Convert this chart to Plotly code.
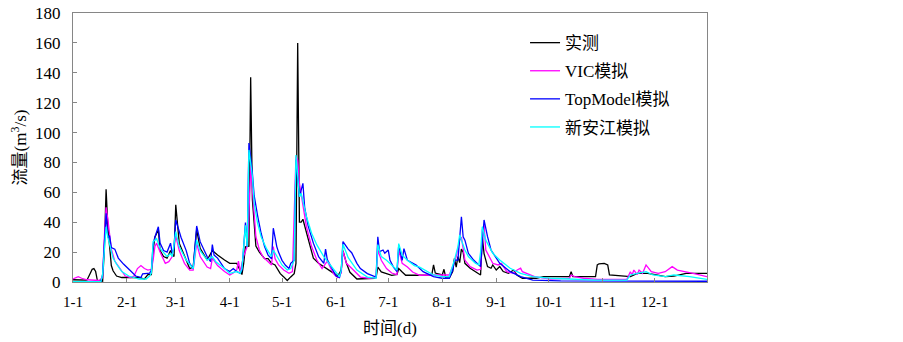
import plotly.graph_objects as go

# ---------------- data (day index 0..364, flow m3/s) ----------------
month_days = [0, 31, 59, 90, 120, 151, 181, 212, 243, 273, 304, 334]
month_labels = ["1-1", "2-1", "3-1", "4-1", "5-1", "6-1", "7-1", "8-1", "9-1", "10-1", "11-1", "12-1"]

series_names = ["实测", "VIC模拟", "TopModel模拟", "新安江模拟"]
series_colors = ["#000000", "#FF00FF", "#0000FF", "#00FFFF"]

obs_points = [(0,1.5),(5,1.5),(8,1.2),(10,6),(11,8.5),(12,9),(13,7),(14,1),(17,0.5),(18,22),(19,62),(20,37),(21,22),(22,11),(23,7.5),(25,4),(28,3),(34,3),(38,3),(41,2),(43,5),(45,5),(46,21),(47,30),(49,35),(50,21),(52,17),(54,16),(56,21),(58,17),(59,51.6),(61,26),(64,17),(67,9),(69,10),(71,35),(73,22.5),(77,14.7),(80,21),(83,18),(87,14.7),(90,12.5),(94,12.5),(96,7),(97,5),(98,12.5),(99,23.6),(101,24),(102,137),(103,55),(104,37),(105,24),(107,20),(110,15.6),(112,15.6),(114,12.5),(116,11.4),(119,5.6),(121,3.4),(123,1),(125,3.4),(127,5.6),(128,12.5),(129,160),(130,40),(131,40),(132,42),(134,33),(136,24),(138,16),(141,12.5),(144,10),(147,8),(150,5.6),(152,4),(154,8),(155,21),(157,12.5),(159,6.5),(161,4),(163,2),(173,2.5),(174,3),(175,10),(177,6.7),(180,5.6),(183,4.5),(186,5),(187,9),(189,6.7),(191,4.5),(200,4.5),(206,4.7),(207,11.4),(208,6),(212,4.7),(213,8.5),(214,3),(216,2.5),(218,7),(219,15.8),(220,10),(221,17),(222,13),(223,22),(224,20),(225,12.5),(228,9.2),(231,6.9),(234,4.7),(235,30),(236,19),(238,10.3),(240,9.2),(241,11.4),(243,8),(245,10.3),(247,7),(250,5.8),(253,8),(255,4.5),(258,2.5),(266,2.5),(270,3.6),(285,3.6),(286,6.9),(287,3.6),(300,3.6),(301,11.4),(302,12.2),(305,12.5),(307,11.4),(308,4.7),(320,3.6),(324,5.8),(330,5.8),(335,4.7),(340,3.6),(345,4),(352,5.8),(364,5.8)]

vic_points = [(0,2),(3,3.5),(5,2.5),(8,1.5),(15,1),(17,3),(18,30),(19,50),(20,42),(21,31),(22,22),(24,14),(27,9),(30,4),(33,3),(35,4),(37,9),(39,11),(41,9),(43,8),(45,8.5),(46,14.7),(47,23.7),(48,26),(50,20),(53,12.5),(55,13.6),(57,17),(59,31),(61,21),(64,12.5),(67,8),(69,8),(71,26),(73,17),(77,10),(79,9),(80,16),(83,11),(87,7),(90,4.7),(92,6),(94,8),(95,14),(96,7),(98,17.4),(100,23.7),(101,45),(102,78),(103,60),(104,43.8),(105,30.3),(107,21.4),(109,17),(111,14.7),(113,12.5),(114,11.4),(115,23.7),(116,15.6),(118,11.4),(121,8),(124,5.8),(126,7),(128,84),(129,81.6),(130,66),(131,59),(132,52),(134,37),(137,23.7),(140,14.7),(143,9),(145,12),(146,14),(148,9),(150,5),(152,3),(154,6),(155,20.6),(157,12.5),(161,8),(165,3.3),(170,2.5),(174,3),(175,21.4),(177,14.5),(180,9),(183,6),(186,5),(187,21.4),(189,12.5),(192,10),(195,6.7),(199,4.5),(205,4.7),(210,4.7),(216,4.7),(218,10.3),(220,17),(222,28),(223,30),(225,14.7),(228,10.3),(232,8),(234,8.5),(235,35),(236,38),(237,21.4),(241,12.5),(244,11.4),(246,12.5),(249,6.9),(253,5.8),(255,8),(257,9.2),(258,6.9),(265,3.6),(274,2),(285,2.5),(286,4.7),(288,3.6),(293,2.5),(301,1.8),(318,1.8),(320,6.9),(321,4.7),(322,8),(324,5),(325,8),(327,5.8),(329,11.4),(332,6.9),(336,5.8),(340,6.9),(344,10.3),(347,8),(352,6.9),(356,5.8),(364,3.6)]

top_points = [(0,0.3),(16,0.3),(17,5),(18,30),(19,46),(20,30),(21,31),(22,23),(24,22),(26,16),(29,12),(33,7.5),(36,4),(39,3),(40,5.5),(44,6),(45,8),(46,25),(47,30),(49,37),(50,26),(52,21),(54,20),(56,26),(57,19),(58,22.5),(59,41.5),(62,30),(65,21),(67,12.5),(69,9),(71,37.5),(73,27),(77,17),(79,13.6),(80,25),(81,18),(83,16),(87,9),(90,7),(92,9),(94,7),(96,5.8),(97,8),(99,39.7),(100,23.7),(101,93),(103,72.7),(104,57.9),(106,44.3),(108,32.6),(110,23.7),(112,18),(114,15.6),(115,36),(117,23.7),(118,20),(120,14.5),(122,11.2),(124,9),(125,12.5),(127,14.5),(128,82),(130,57),(131,61.5),(132,66),(133,50),(135,37.5),(138,26),(141,17),(144,12.5),(145,22),(146,15),(147,13),(149,8),(151,4),(153,3),(154,8),(155,27),(158,22),(160,19.6),(163,12.5),(165,9),(169,5.6),(174,3.3),(175,30.3),(176,20.3),(178,21.4),(179,19.2),(181,21.4),(182,14.5),(184,10),(186,7),(187,24.6),(189,14.5),(190,22.3),(192,14.5),(195,12.5),(197,11.4),(201,6.9),(207,3.6),(212,2.5),(216,2.5),(218,8),(219,14.7),(221,14.7),(222,30.3),(223,43.7),(224,30.3),(225,28),(227,19.2),(230,14.7),(234,10.3),(235,27),(236,41.5),(238,30.3),(240,21.4),(245,12.5),(251,6.9),(257,3.6),(264,1.3),(280,0.8),(364,0.5)]

xaj_points = [(0,0.3),(16,0.3),(17,5),(18,25),(19,37),(20,30),(21,25),(23,16),(25,12),(28,7),(32,4),(36,3),(38,2),(42,2),(44,4),(45,6),(46,27),(48,29),(50,22.5),(54,17),(56,19),(57,17),(59,33.7),(61,23.7),(65,14.7),(69,9),(71,28),(73,21),(77,14.7),(80,17),(82,13.6),(87,9),(90,5.8),(94,7),(96,5.8),(97,9),(99,38),(100,23.7),(101,88.4),(103,70.6),(104,52.7),(106,39.3),(108,30.3),(111,22.5),(114,17),(115,21.4),(117,17),(120,11.4),(123,8),(125,9),(127,14.7),(128,85),(130,57),(131,59.4),(134,43.8),(137,32.6),(140,24.8),(144,17),(147,12.5),(150,8),(153,3.5),(154,8),(155,25.2),(158,16.3),(163,8),(169,3.3),(174,2.5),(175,25),(177,17),(180,14.5),(184,10),(186,8),(187,25.7),(189,18),(192,14.5),(196,11),(199,10),(202,8),(207,4.7),(212,3.6),(216,3.6),(219,14.7),(221,23.7),(222,31.5),(225,21.4),(227,17),(231,12.5),(233,11.4),(234,20),(235,37),(237,28),(241,19.2),(245,14.7),(251,9.2),(257,5.8),(264,3.6),(274,2.5),(285,2),(300,1.3),(318,1.3),(320,4.7),(324,5.8),(329,6.9),(333,4.7),(340,3.6),(345,4.7),(354,3.6),(364,1.8)]

all_points = [obs_points, vic_points, top_points, xaj_points]

# ---------------- figure ----------------
SERIF = "Times New Roman, Liberation Serif, Noto Sans CJK SC, serif"
AXIS_GRAY = "#868686"

fig = go.Figure()
for i, (name, color, pts) in enumerate(zip(series_names, series_colors, all_points)):
    fig.add_trace(go.Scatter(
        x=[p[0] for p in pts], y=[p[1] for p in pts],
        mode="lines", name=name, legendgroup=f"g{i}",
        line=dict(color=color, width=1.3),
    ))

fig.update_layout(
    width=903, height=342,
    margin=dict(l=73, r=196, t=13, b=60, autoexpand=False),
    paper_bgcolor="white", plot_bgcolor="white",
    font=dict(family=SERIF, size=16, color="black"),
    showlegend=True,
    legend=dict(x=0.713, y=0.955, xanchor="left", yanchor="top",
                bgcolor="rgba(0,0,0,0)", tracegroupgap=3,
                font=dict(family=SERIF, size=17, color="black"),
                traceorder="grouped"),
)
fig.update_xaxes(
    range=[0, 364], tickmode="array", tickvals=month_days, ticktext=month_labels,
    ticks="inside", ticklen=4, tickcolor=AXIS_GRAY, showgrid=False, zeroline=False,
    showline=True, linecolor=AXIS_GRAY, linewidth=1, mirror=True, automargin=False,
    tickfont=dict(family=SERIF, size=15), ticklabelstandoff=6, ticklabeloverflow="allow",
    title=dict(text="时间(d)", font=dict(family=SERIF, size=17), standoff=13),
)
fig.update_yaxes(
    range=[0, 180], dtick=20, tick0=0,
    ticks="inside", ticklen=4, tickcolor=AXIS_GRAY, showgrid=False, zeroline=False,
    showline=True, linecolor=AXIS_GRAY, linewidth=1, mirror=True, automargin=False,
    tickfont=dict(family=SERIF, size=17), ticklabelstandoff=8, ticklabeloverflow="allow",
    title=dict(text="流量(m<sup>3</sup>/s)", font=dict(family=SERIF, size=17), standoff=4),
)

fig.write_html("out.html", config={"displayModeBar": False},
               post_script="document.body.style.margin='0';")
